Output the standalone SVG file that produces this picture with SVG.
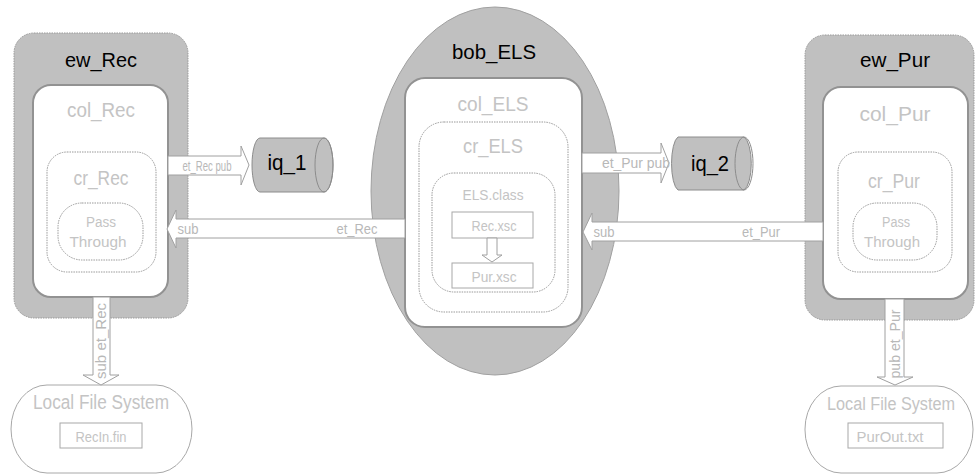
<svg xmlns="http://www.w3.org/2000/svg" width="976" height="475" viewBox="0 0 976 475">
<style>
text{font-family:"Liberation Sans Narrow","Liberation Sans",Arial,sans-serif;text-anchor:middle}
.ew{fill:#c0c0c0;stroke:#999;stroke-width:1;stroke-dasharray:1.5 1}
.col{fill:#fff;stroke:#929292;stroke-width:2}
.cr{fill:none;stroke:#999;stroke-width:1;stroke-dasharray:1.5 1}
.box{fill:#fff;stroke:#a8a8a8;stroke-width:1}
.arr{fill:#fff;stroke:#a0a0a0;stroke-width:1}
.cyl{fill:#c0c0c0;stroke:#8c8c8c;stroke-width:1}
.t1{fill:#000;font-size:20px}
.t2{fill:#c4c4c4;font-size:20px}
.t3{fill:#c4c4c4;font-size:14px}
.ta{fill:#b8b8b8;font-size:14px}
.q{fill:#000;font-size:22px}
</style>
<g id="ew_Rec">
<rect class="ew" x="14" y="33" width="174" height="285" rx="20"/>
<text class="t1" x="101" y="67" textLength="72" lengthAdjust="spacingAndGlyphs">ew_Rec</text>
</g>
<g id="col_Rec">
<rect class="col" x="33" y="85" width="135" height="212" rx="18"/>
<text class="t2" x="101" y="117" textLength="68" lengthAdjust="spacingAndGlyphs">col_Rec</text>
</g>
<g id="cr_Rec">
<rect class="cr" x="47" y="152" width="109" height="120" rx="20"/>
<text class="t2" x="101" y="185" textLength="55" lengthAdjust="spacingAndGlyphs">cr_Rec</text>
</g>
<g id="pass_Rec">
<rect class="cr" x="58" y="203" width="85" height="57" rx="24"/>
<text class="t3" x="101" y="227" textLength="30" lengthAdjust="spacingAndGlyphs">Pass</text>
<text class="t3" x="98" y="247" textLength="57" lengthAdjust="spacingAndGlyphs">Through</text>
</g>
<g id="bob_ELS">
<ellipse cx="495" cy="191" rx="124" ry="184" fill="#c0c0c0" stroke="#a0a0a0" stroke-width="1"/>
<text class="t1" x="494" y="59" textLength="84" lengthAdjust="spacingAndGlyphs">bob_ELS</text>
</g>
<g id="col_ELS">
<rect class="col" x="405" y="78" width="177" height="249" rx="20"/>
<text class="t2" x="493" y="111" textLength="71" lengthAdjust="spacingAndGlyphs">col_ELS</text>
</g>
<g id="cr_ELS">
<rect class="cr" x="419" y="122" width="149" height="190" rx="25"/>
<text class="t2" x="493" y="153" textLength="60" lengthAdjust="spacingAndGlyphs">cr_ELS</text>
</g>
<g id="ELS_class">
<rect class="cr" x="432" y="173" width="123" height="119" rx="22"/>
<text class="t3" x="493" y="200" textLength="61" lengthAdjust="spacingAndGlyphs" style="font-size:15px">ELS.class</text>
</g>
<g id="Rec_xsc">
<rect class="box" x="452" y="212" width="81" height="26"/>
<text class="t3" x="494" y="231" textLength="45" lengthAdjust="spacingAndGlyphs">Rec.xsc</text>
</g>
<g id="Pur_xsc">
<rect class="box" x="452" y="263" width="81" height="25"/>
<text class="t3" x="494" y="282" textLength="45" lengthAdjust="spacingAndGlyphs">Pur.xsc</text>
</g>
<g id="ew_Pur">
<rect class="ew" x="805" y="35" width="169" height="285" rx="20"/>
<text class="t1" x="895" y="67" textLength="70" lengthAdjust="spacingAndGlyphs">ew_Pur</text>
</g>
<g id="col_Pur">
<rect class="col" x="823" y="87" width="145" height="212" rx="18"/>
<text class="t2" x="895" y="121" textLength="71" lengthAdjust="spacingAndGlyphs">col_Pur</text>
</g>
<g id="cr_Pur">
<rect class="cr" x="838" y="152" width="114" height="120" rx="20"/>
<text class="t2" x="894" y="188" textLength="52" lengthAdjust="spacingAndGlyphs">cr_Pur</text>
</g>
<g id="pass_Pur">
<rect class="cr" x="853" y="203" width="84" height="57" rx="24"/>
<text class="t3" x="896" y="227" textLength="28" lengthAdjust="spacingAndGlyphs">Pass</text>
<text class="t3" x="892" y="247" textLength="56" lengthAdjust="spacingAndGlyphs">Through</text>
</g>
<g id="iq_1">
<path class="cyl" d="M260,138 L324,138 A9,27 0 0 1 324,192 L260,192 A8,27 0 0 1 260,138 Z"/>
<ellipse cx="324" cy="165" rx="9" ry="27" fill="none" stroke="#8c8c8c"/>
<text class="q" x="287" y="170" textLength="39" lengthAdjust="spacingAndGlyphs">iq_1</text>
</g>
<g id="iq_2">
<path class="cyl" d="M678,137 L744,137 A9,27 0 0 1 744,190 L678,190 A8,27 0 0 1 678,137 Z"/>
<ellipse cx="744" cy="163.5" rx="9" ry="26.5" fill="none" stroke="#8c8c8c"/>
<text class="q" x="710" y="171" textLength="38" lengthAdjust="spacingAndGlyphs">iq_2</text>
</g>
<g id="lfs_Rec">
<rect class="box" x="11" y="385" width="181" height="88" rx="36" ry="44" stroke="#999"/>
<text class="t2" x="101" y="409" textLength="136" lengthAdjust="spacingAndGlyphs">Local File System</text>
<rect class="box" x="60" y="423" width="82" height="25" stroke="#999"/>
<text class="t3" x="101" y="442" textLength="51" lengthAdjust="spacingAndGlyphs">RecIn.fin</text>
</g>
<g id="lfs_Pur">
<rect class="box" x="805" y="386" width="168" height="87" rx="36" ry="43" stroke="#999"/>
<text class="t2" x="891" y="410" textLength="128" lengthAdjust="spacingAndGlyphs" style="font-size:18px">Local File System</text>
<rect class="box" x="848" y="423" width="95" height="25" stroke="#999"/>
<text class="t3" x="890" y="442" textLength="67" lengthAdjust="spacingAndGlyphs">PurOut.txt</text>
</g>
<g id="connectors">
<polygon class="arr" points="168,156 241,156 241,146 249,165 241,185 241,175 168,175"/>
<text class="ta" x="207" y="171" textLength="49" lengthAdjust="spacingAndGlyphs">et_Rec pub</text>
<polygon class="arr" points="405,219 176,219 176,210 167,229 176,248 176,238 405,238"/>
<text class="ta" x="188" y="234" textLength="21" lengthAdjust="spacingAndGlyphs">sub</text>
<text class="ta" x="357" y="234" textLength="41" lengthAdjust="spacingAndGlyphs">et_Rec</text>
<polygon class="arr" points="582,153 661,153 661,143 669,163 661,183 661,173 582,173"/>
<text class="ta" x="636" y="168" textLength="68" lengthAdjust="spacingAndGlyphs">et_Pur  pub</text>
<polygon class="arr" points="823,222 592,222 592,213 583,232 592,250 592,241 823,241"/>
<text class="ta" x="604" y="237" textLength="21" lengthAdjust="spacingAndGlyphs">sub</text>
<text class="ta" x="761" y="237" textLength="38" lengthAdjust="spacingAndGlyphs">et_Pur</text>
<polygon class="arr" points="487,238 497,238 497,255 502,255 492,262 482,255 487,255"/>
<polygon class="arr" points="93,297 110,297 110,375 119,375 101,385 83,375 93,375"/>
<text class="ta" transform="translate(106,341) rotate(-90)" textLength="76" lengthAdjust="spacingAndGlyphs">sub et_Rec</text>
<polygon class="arr" points="885,299 904,299 904,377 913,377 895,385 877,377 885,377"/>
<text class="ta" transform="translate(900,344) rotate(-90)" textLength="69" lengthAdjust="spacingAndGlyphs">pub et_Pur</text>
</g>
</svg>
